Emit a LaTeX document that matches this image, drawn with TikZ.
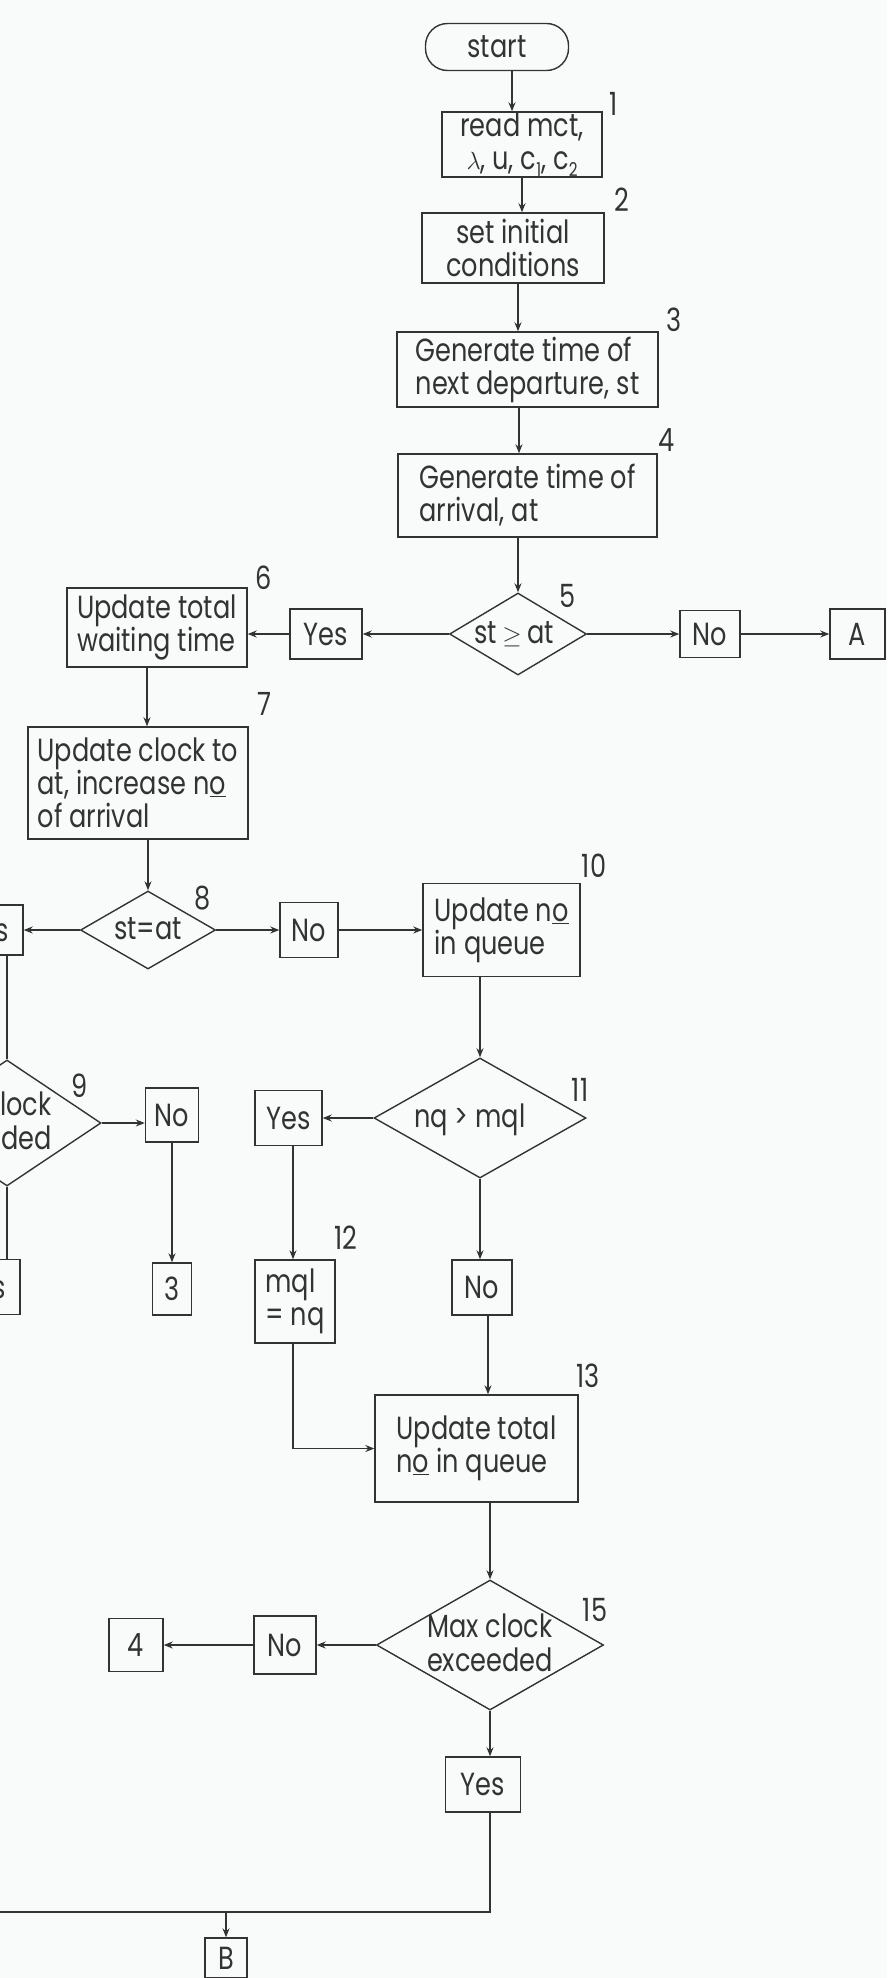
\documentclass[tikz,border=0pt]{standalone}
\usepackage{fontspec}
\setmainfont{Poppins}[FakeStretch=0.8]
\usepackage{tikz}
\usetikzlibrary{arrows.meta,shapes.geometric}
\definecolor{ink}{HTML}{333333}
\definecolor{paper}{HTML}{F9FBFB}
\newcommand{\low}[1]{\raisebox{-0.22em}{\fontsize{19}{19}\selectfont #1}}
\newcommand{\dtxt}[2][0pt]{\smash{\makebox[0pt]{\hspace*{#1}\raisebox{-9pt}{\begin{tabular}{@{}c@{}}#2\end{tabular}}}}}

\begin{document}
\begin{tikzpicture}[
  x=1pt, y=-1pt,
  font=\fontsize{32}{33}\selectfont, text=ink,
  box/.style={draw=ink, line width=1.4pt, align=left, inner sep=0pt},
  term/.style={draw=ink, line width=1.4pt, rounded corners=22pt, inner sep=0pt},
  dec/.style={draw=ink, line width=1.4pt, diamond, inner sep=0pt},
  num/.style={inner sep=0pt},
  arr/.style={-{Stealth[length=9pt,width=7pt]}, draw=ink, line width=1.4pt},
  ln/.style={draw=ink, line width=1.4pt},
]
\useasboundingbox (0,0) rectangle (887,1978);
\clip (0,0) rectangle (887,1978);
\fill[paper] (0,0) rectangle (887,1978);

\node[term, minimum width=143pt, minimum height=47pt] (st) at (497,47) {start};
\node[box, align=center, minimum width=160pt, minimum height=65pt] (rd) at (522,144.5) {read mct,\\ $\lambda$, u, c\low{1}, c\low{2}};
\node[box, align=center, minimum width=182pt, minimum height=70pt] (ini) at (513,248) {set initial\\ conditions};
\node[box, minimum width=261pt, minimum height=75pt] (gen) at (527.5,369.5) {Generate time of\\ next departure, st};
\node[box, minimum width=259pt, minimum height=83pt] (arv) at (527.5,495.5) {Generate time of\\ arrival, at};
\node[dec, minimum width=137pt, minimum height=82pt] (d5) at (518,634) {\dtxt[-8pt]{st\,$\geq$\,at}};
\node[box, align=center, minimum width=60pt, minimum height=47pt] (n5) at (710,634) {No};
\node[box, align=center, minimum width=55pt, minimum height=50pt] (ba) at (857.5,634) {A};
\node[box, align=center, minimum width=72pt, minimum height=50pt] (y5) at (326,634) {Yes};
\node[box, minimum width=180pt, minimum height=79pt] (wt) at (157,627.5) {Update total\\ waiting time};
\node[box, minimum width=220pt, minimum height=112pt] (clk) at (138,783) {Update clock to\\ at, increase n\underline{o}\\ of arrival};
\node[dec, minimum width=135pt, minimum height=78pt] (d8) at (148,930) {\dtxt{st=at}};
\node[box, align=center, minimum width=72pt, minimum height=50pt] (y8) at (-13,930) {Yes};
\node[box, align=center, minimum width=58pt, minimum height=55pt] (n8) at (309,930) {No};
\node[box, minimum width=157pt, minimum height=93pt] (uq) at (501.5,930) {Update n\underline{o}\\ in queue};
\node[dec, minimum width=188pt, minimum height=126pt] (d9) at (7,1123) {\dtxt[-36pt]{Max clock\\ exceeded}};
\node[box, align=center, minimum width=53pt, minimum height=54pt] (n9) at (172,1115) {No};
\node[box, align=center, minimum width=39pt, minimum height=52pt] (g3) at (172,1289) {3};
\node[box, align=center, minimum width=72pt, minimum height=55pt] (y9) at (-16,1287) {Yes};
\node[dec, minimum width=212pt, minimum height=120pt] (d11) at (480,1118) {\dtxt[-20pt]{nq > mql}};
\node[box, align=center, minimum width=67pt, minimum height=55pt] (y11) at (288.5,1118) {Yes};
\node[box, minimum width=80pt, minimum height=83pt] (mq) at (295,1301.5) {mql\\ = nq};
\node[box, align=center, minimum width=60pt, minimum height=55pt] (n11) at (482,1287.5) {No};
\node[box, minimum width=203pt, minimum height=107pt] (tq) at (476.5,1448.5) {Update total\\ n\underline{o} in queue};
\node[dec, minimum width=227pt, minimum height=130pt] (d15) at (490,1645) {\dtxt{Max clock\\ exceeded}};
\node[box, align=center, minimum width=62pt, minimum height=58pt] (n15) at (285,1645) {No};
\node[box, align=center, minimum width=54pt, minimum height=53pt] (g4) at (136,1645) {4};
\node[box, align=center, minimum width=75pt, minimum height=55pt] (y15) at (483,1784.5) {Yes};
\node[box, align=center, minimum width=42pt, minimum height=40pt] (bb) at (226,1958) {B};
\coordinate (jn) at (490,1912);
\coordinate (lft) at (-5,1912);

\node[num] (l1) at (614,104) {1};
\node[num] (l2) at (622,200) {2};
\node[num] (l3) at (674,320) {3};
\node[num] (l4) at (667,440) {4};
\node[num] (l5) at (568,596) {5};
\node[num] (l6) at (264,578) {6};
\node[num] (l7) at (264,704) {7};
\node[num] (l8) at (203,898) {8};
\node[num] (l9) at (80,1086) {9};
\node[num] (l10) at (594,866) {10};
\node[num] (l11) at (580,1090) {11};
\node[num] (l12) at (346,1238) {12};
\node[num] (l13) at (588,1376) {13};
\node[num] (l15) at (595,1610) {15};

\draw[arr] ([xshift=15pt]st.south) -- ([xshift=-10pt]rd.north);
\draw[arr] (rd.south) -- ([xshift=9pt]ini.north);
\draw[arr] ([xshift=5pt]ini.south) -- ([xshift=-9.5pt]gen.north);
\draw[arr] ([xshift=-8.5pt]gen.south) -- ([xshift=-8.5pt]arv.north);
\draw[arr] ([xshift=-9.5pt]arv.south) -- (d5.north);
\draw[arr] (d5.west) -- (y5.east);
\draw[arr] (y5.west) -- ([yshift=-6.5pt]wt.east);
\draw[arr] (d5.east) -- (n5.west);
\draw[arr] (n5.east) -- (ba.west);
\draw[arr] ([xshift=-10pt]wt.south) -- ([xshift=9pt]clk.north);
\draw[arr] ([xshift=10pt]clk.south) -- (d8.north);
\draw[arr] (d8.west) -- (y8.east);
\draw[arr] (d8.east) -- (n8.west);
\draw[arr] (n8.east) -- (uq.west);
\draw[ln] ([xshift=20pt]y8.south) -- (d9.north);
\draw[arr] (d9.east) -- ([yshift=-8pt]n9.west);
\draw[arr] (n9.south) -- (g3.north);
\draw[ln] (d9.south) -- ([xshift=23pt]y9.north);
\draw[arr] ([xshift=-21.5pt]uq.south) -- (d11.north);
\draw[arr] (d11.west) -- (y11.east);
\draw[arr] ([xshift=4.5pt]y11.south) -- ([xshift=-2pt]mq.north);
\draw[arr] (d11.south) -- ([xshift=-2pt]n11.north);
\draw[arr] ([xshift=6pt]n11.south) -- ([xshift=11.5pt]tq.north);
\draw[arr] ([xshift=-2pt]mq.south) |- (tq.west);
\draw[arr] ([xshift=13.5pt]tq.south) -- (d15.north);
\draw[arr] (d15.west) -- (n15.east);
\draw[arr] (n15.west) -- (g4.east);
\draw[arr] (d15.south) -- ([xshift=7pt]y15.north);
\draw[ln] ([xshift=7pt]y15.south) -- (jn) -- (lft);
\draw[arr] (bb.north |- jn) -- (bb.north);
\end{tikzpicture}
\end{document}
